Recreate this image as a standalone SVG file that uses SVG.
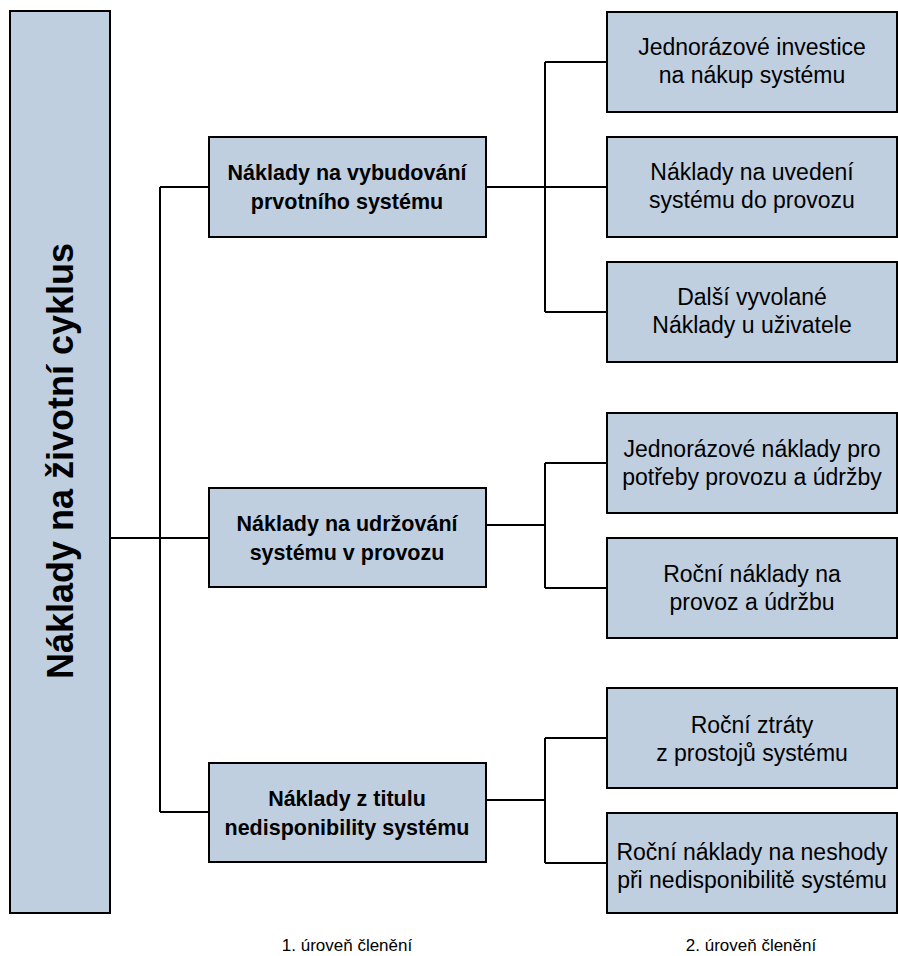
<svg xmlns="http://www.w3.org/2000/svg" width="898" height="956" viewBox="0 0 898 956">
<style>
.box{fill:#bfcfe0;stroke:#000;stroke-width:2}
.l1{font-family:"Liberation Sans",Arial,sans-serif;font-weight:bold;font-size:21.5px;text-anchor:middle;fill:#000}
.l2{font-family:"Liberation Sans",Arial,sans-serif;font-size:23px;text-anchor:middle;fill:#000}
.main{font-family:"Liberation Sans",Arial,sans-serif;font-weight:bold;font-size:36px;text-anchor:middle;fill:#000}
.lab{font-family:"Liberation Sans",Arial,sans-serif;font-size:17px;text-anchor:middle;fill:#000}
.con{fill:none;stroke:#000;stroke-width:2}
</style>
<rect width="898" height="956" fill="#fff"/>
<g id="connectors">
<path class="con" d="M110 538H209M160 187V812M160 187H209M160 812H209"/>
<path class="con" d="M486 187H545M545 62V312M545 62H607M545 187H607M545 312H607"/>
<path class="con" d="M486 525H545M545 463V588M545 463H607M545 588H607"/>
<path class="con" d="M486 800H545M545 738V863M545 738H607M545 863H607"/>
</g>
<g id="root">
<rect class="box" x="10" y="11" width="100" height="902"/>
<text class="main" transform="translate(73 461) rotate(-90)">Náklady na životní cyklus</text>
</g>
<g id="a1">
<rect class="box" x="209" y="137" width="277" height="100"/>
<text class="l1" x="347" y="180">Náklady na vybudování</text>
<text class="l1" x="347" y="209">prvotního systému</text>
</g>
<g id="a2">
<rect class="box" x="209" y="488" width="277" height="99"/>
<text class="l1" x="347" y="531">Náklady na udržování</text>
<text class="l1" x="347" y="560">systému v provozu</text>
</g>
<g id="a3">
<rect class="box" x="209" y="763" width="277" height="99"/>
<text class="l1" x="347" y="806">Náklady z titulu</text>
<text class="l1" x="347" y="835">nedisponibility systému</text>
</g>
<g id="b1">
<rect class="box" x="607" y="12" width="290" height="100"/>
<text class="l2" x="752" y="55">Jednorázové investice</text>
<text class="l2" x="752" y="83">na nákup systému</text>
</g>
<g id="b2">
<rect class="box" x="607" y="137" width="290" height="100"/>
<text class="l2" x="752" y="180">Náklady na uvedení</text>
<text class="l2" x="752" y="208">systému do provozu</text>
</g>
<g id="b3">
<rect class="box" x="607" y="262" width="290" height="100"/>
<text class="l2" x="752" y="305">Další vyvolané</text>
<text class="l2" x="752" y="333">Náklady u uživatele</text>
</g>
<g id="b4">
<rect class="box" x="607" y="413" width="290" height="100"/>
<text class="l2" x="752" y="457">Jednorázové náklady pro</text>
<text class="l2" x="752" y="485">potřeby provozu a údržby</text>
</g>
<g id="b5">
<rect class="box" x="607" y="538" width="290" height="100"/>
<text class="l2" x="752" y="582">Roční náklady na</text>
<text class="l2" x="752" y="610">provoz a údržbu</text>
</g>
<g id="b6">
<rect class="box" x="607" y="688" width="290" height="100"/>
<text class="l2" x="752" y="733">Roční ztráty</text>
<text class="l2" x="752" y="761">z prostojů systému</text>
</g>
<g id="b7">
<rect class="box" x="607" y="813" width="290" height="100"/>
<text class="l2" x="752" y="860">Roční náklady na neshody</text>
<text class="l2" x="752" y="888">při nedisponibilitě systému</text>
</g>
<g id="labels">
<text class="lab" x="347" y="951">1. úroveň členění</text>
<text class="lab" x="751" y="951">2. úroveň členění</text>
</g>
</svg>
